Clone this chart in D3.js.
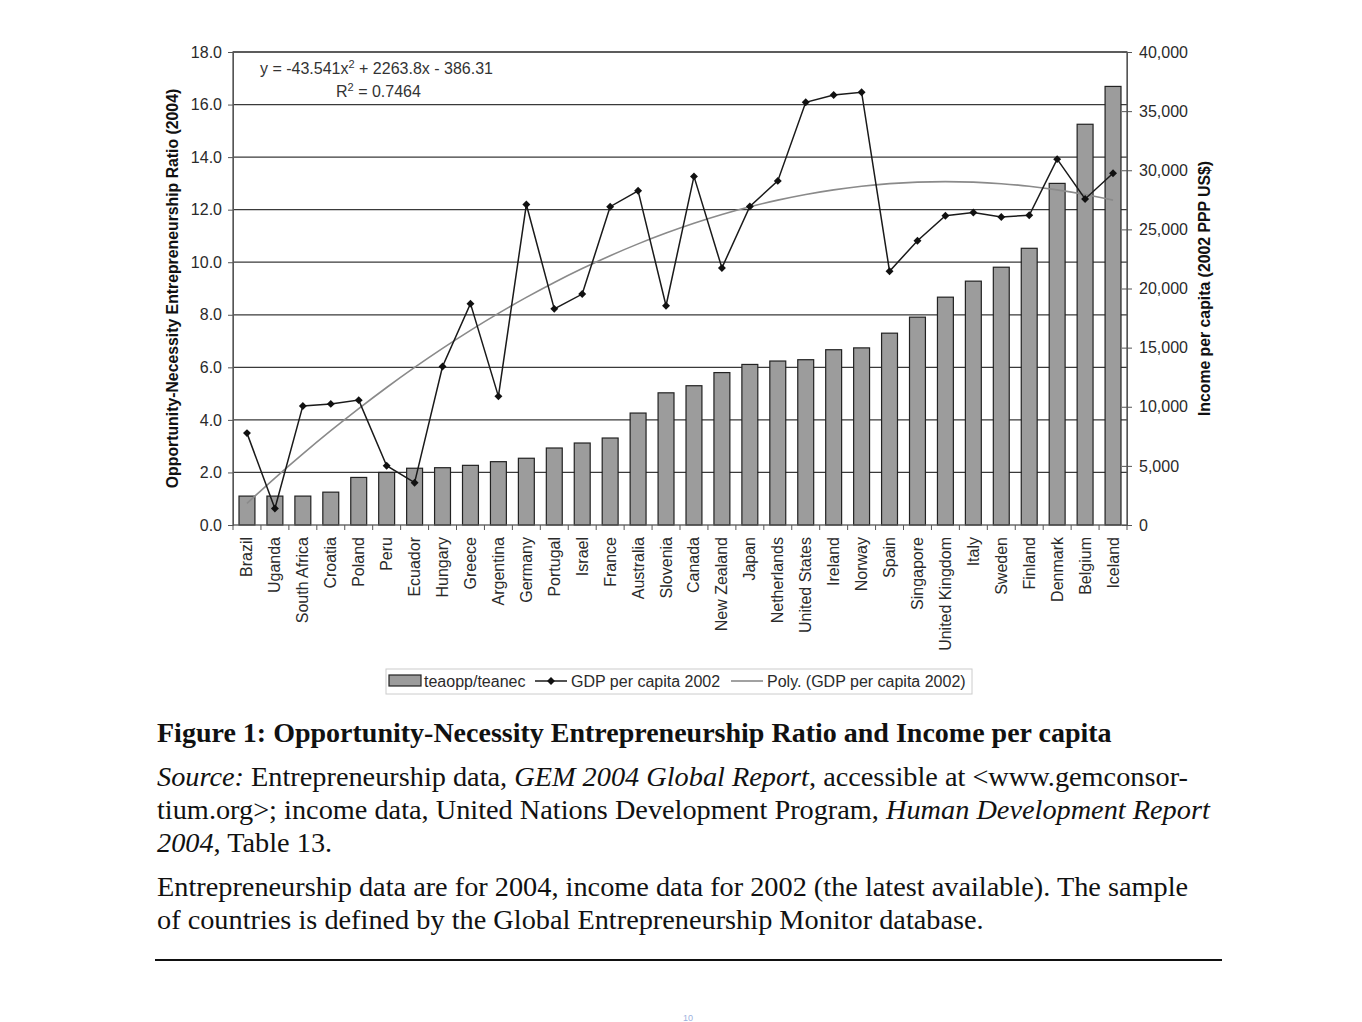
<!DOCTYPE html>
<html><head><meta charset="utf-8">
<script src="https://cdn.jsdelivr.net/npm/d3@7"></script>
<style>body{margin:0;background:#fff}svg{display:block}</style>
</head><body>
<svg id="c" width="1362" height="1022"></svg>
<script>
const countries = ["Brazil","Uganda","South Africa","Croatia","Poland","Peru","Ecuador","Hungary","Greece","Argentina","Germany","Portugal","Israel","France","Australia","Slovenia","Canada","New Zealand","Japan","Netherlands","United States","Ireland","Norway","Spain","Singapore","United Kingdom","Italy","Sweden","Finland","Denmark","Belgium","Iceland"];
const ratio = [1.1,1.1,1.1,1.25,1.81,2.0,2.16,2.18,2.27,2.41,2.54,2.93,3.12,3.31,4.26,5.03,5.30,5.80,6.11,6.24,6.29,6.67,6.74,7.30,7.91,8.67,9.28,9.81,10.53,13.0,15.25,16.69];
const gdp = [7770,1390,10070,10240,10560,5010,3580,13400,18720,10880,27100,18280,19530,26920,28260,18540,29480,21740,26940,29100,35750,36360,36600,21460,24040,26150,26430,26050,26190,30940,27570,29750];
const trendCoef = [-43.541, 2263.8, -386.31];
const leftTicks = [0,2,4,6,8,10,12,14,16,18];
const rightTicks = [0,5000,10000,15000,20000,25000,30000,35000,40000];
const legendLabels = ["teaopp/teanec","GDP per capita 2002","Poly. (GDP per capita 2002)"];

const svg = d3.select("#c");
const L = 233, R = 1127, T = 52, B = 525;
const x = d3.scaleBand().domain(countries).range([L, R]).paddingInner(0.43).paddingOuter(0.215);
const yL = d3.scaleLinear().domain([0, 18]).range([B, T]);
const yR = d3.scaleLinear().domain([0, 40000]).range([B, T]);
const font = "'Liberation Sans', Arial, sans-serif";
const txt = "#2a2a2a";
const fs = 16;

// gridlines
svg.append("g").selectAll("line").data(leftTicks.filter(d => d > 0)).join("line")
  .attr("x1", L).attr("x2", R).attr("y1", d => yL(d)).attr("y2", d => yL(d))
  .attr("stroke", "#3a3a3a").attr("stroke-width", 1.3);

// bars
svg.append("g").selectAll("rect").data(countries).join("rect")
  .attr("x", d => x(d)).attr("width", x.bandwidth())
  .attr("y", (d, i) => yL(ratio[i])).attr("height", (d, i) => B - yL(ratio[i]))
  .attr("fill", "#9c9c9c").attr("stroke", "#222").attr("stroke-width", 1.2);

// trend
const trend = countries.map((c, i) => {
  const k = i + 1;
  return [x(c) + x.bandwidth() / 2, trendCoef[0] * k * k + trendCoef[1] * k + trendCoef[2]];
});
svg.append("path").datum(trend)
  .attr("d", d3.line().x(d => d[0]).y(d => yR(d[1])).curve(d3.curveNatural))
  .attr("fill", "none").attr("stroke", "#8a8a8a").attr("stroke-width", 1.6);

// gdp line
const cx = c => x(c) + x.bandwidth() / 2;
svg.append("path").datum(countries)
  .attr("d", d3.line().x(d => cx(d)).y((d, i) => yR(gdp[i])))
  .attr("fill", "none").attr("stroke", "#1a1a1a").attr("stroke-width", 1.5);
svg.append("g").selectAll("path").data(countries).join("path")
  .attr("d", d3.symbol().type(d3.symbolDiamond2).size(40))
  .attr("transform", (d, i) => `translate(${cx(d)},${yR(gdp[i])})`)
  .attr("fill", "#111");

// frame
svg.append("rect").attr("x", L).attr("y", T).attr("width", R - L).attr("height", B - T)
  .attr("fill", "none").attr("stroke", "#555").attr("stroke-width", 1.3);

// left axis
const gl = svg.append("g").attr("transform", `translate(${L},0)`)
  .call(d3.axisLeft(yL).tickValues(leftTicks).tickFormat(d3.format(".1f")).tickSize(5).tickPadding(6));
gl.select(".domain").attr("stroke", "#555");
gl.selectAll("line").attr("stroke", "#555");
gl.selectAll("text").attr("font-family", font).attr("font-size", fs).attr("fill", txt);

// right axis
const gr = svg.append("g").attr("transform", `translate(${R},0)`)
  .call(d3.axisRight(yR).tickValues(rightTicks).tickFormat(d3.format(",")).tickSize(5).tickPadding(7));
gr.select(".domain").attr("stroke", "#555");
gr.selectAll("line").attr("stroke", "#555").attr("x1", -5);
gr.selectAll("text").attr("font-family", font).attr("font-size", fs).attr("fill", txt);

// x axis ticks at boundaries
svg.append("g").selectAll("line").data(d3.range(countries.length + 1)).join("line")
  .attr("x1", i => L + i * (R - L) / countries.length).attr("x2", i => L + i * (R - L) / countries.length)
  .attr("y1", B).attr("y2", B + 5).attr("stroke", "#555");
svg.append("g").selectAll("text").data(countries).join("text")
  .attr("transform", d => `translate(${cx(d) + 5.5},${B + 12}) rotate(-90)`)
  .attr("text-anchor", "end").attr("font-family", font).attr("font-size", fs).attr("fill", txt)
  .text(d => d);

// axis titles
svg.append("text").attr("transform", `translate(178,${(T + B) / 2}) rotate(-90)`)
  .attr("text-anchor", "middle").attr("font-family", font).attr("font-size", 15.8).attr("font-weight", "bold")
  .attr("fill", "#111").text("Opportunity-Necessity Entrepreneurship Ratio (2004)");
svg.append("text").attr("transform", `translate(1210,${(T + B) / 2}) rotate(-90)`)
  .attr("text-anchor", "middle").attr("font-family", font).attr("font-size", 15.8).attr("font-weight", "bold")
  .attr("fill", "#111").text("Income per capita (2002 PPP US$)");

// equation
const eq = svg.append("text").attr("x", 260).attr("y", 74).attr("font-family", font).attr("font-size", fs).attr("fill", "#333");
eq.append("tspan").text("y = -43.541x");
eq.append("tspan").attr("dy", -6).attr("font-size", 11).text("2");
eq.append("tspan").attr("dy", 6).text(" + 2263.8x - 386.31");
const r2 = svg.append("text").attr("x", 336).attr("y", 97).attr("font-family", font).attr("font-size", fs).attr("fill", "#333");
r2.append("tspan").text("R");
r2.append("tspan").attr("dy", -6).attr("font-size", 11).text("2");
r2.append("tspan").attr("dy", 6).text(" = 0.7464");

// legend
const lg = svg.append("g");
lg.append("rect").attr("x", 386).attr("y", 669).attr("width", 586).attr("height", 25).attr("fill", "#fff").attr("stroke", "#ccc");
lg.append("rect").attr("x", 389).attr("y", 675).attr("width", 32).attr("height", 11).attr("fill", "#9c9c9c").attr("stroke", "#222").attr("stroke-width", 1.2);
lg.append("line").attr("x1", 535).attr("x2", 567).attr("y1", 681).attr("y2", 681).attr("stroke", "#1a1a1a").attr("stroke-width", 1.5);
lg.append("path").attr("d", d3.symbol().type(d3.symbolDiamond2).size(40)).attr("transform", "translate(551,681)").attr("fill", "#111");
lg.append("line").attr("x1", 731).attr("x2", 763).attr("y1", 681).attr("y2", 681).attr("stroke", "#8a8a8a").attr("stroke-width", 1.6);
[[424, 0], [571, 1], [767, 2]].forEach(([px, i]) => {
  lg.append("text").attr("x", px).attr("y", 687).attr("font-family", font).attr("font-size", fs).attr("fill", txt).text(legendLabels[i]);
});

// caption
const serif = "'Liberation Serif', 'Times New Roman', serif";
svg.append("text").attr("x", 157).attr("y", 742).attr("font-family", serif).attr("font-size", 28).attr("font-weight", "bold").attr("fill", "#111")
  .text("Figure 1: Opportunity-Necessity Entrepreneurship Ratio and Income per capita");
const lines = [
  [786, [["Source:", true], [" Entrepreneurship data, ", false], ["GEM 2004 Global Report", true], [", accessible at <www.gemconsor-", false]]],
  [819, [["tium.org>; income data, United Nations Development Program, ", false], ["Human Development Report", true]]],
  [852, [["2004", true], [", Table 13.", false]]],
  [896, [["Entrepreneurship data are for 2004, income data for 2002 (the latest available). The sample", false]]],
  [929, [["of countries is defined by the Global Entrepreneurship Monitor database.", false]]]
];
lines.forEach(([yy, parts]) => {
  const t = svg.append("text").attr("x", 157).attr("y", yy).attr("font-family", serif).attr("font-size", 28.3).attr("fill", "#111");
  parts.forEach(([s, it]) => t.append("tspan").attr("font-style", it ? "italic" : "normal").text(s));
});
svg.append("line").attr("x1", 155).attr("x2", 1222).attr("y1", 960).attr("y2", 960).attr("stroke", "#111").attr("stroke-width", 2);
svg.append("text").attr("x", 688).attr("y", 1021).attr("text-anchor", "middle").attr("font-family", font).attr("font-size", 9).attr("fill", "#9db1de").text("10");
</script>
</body></html>
